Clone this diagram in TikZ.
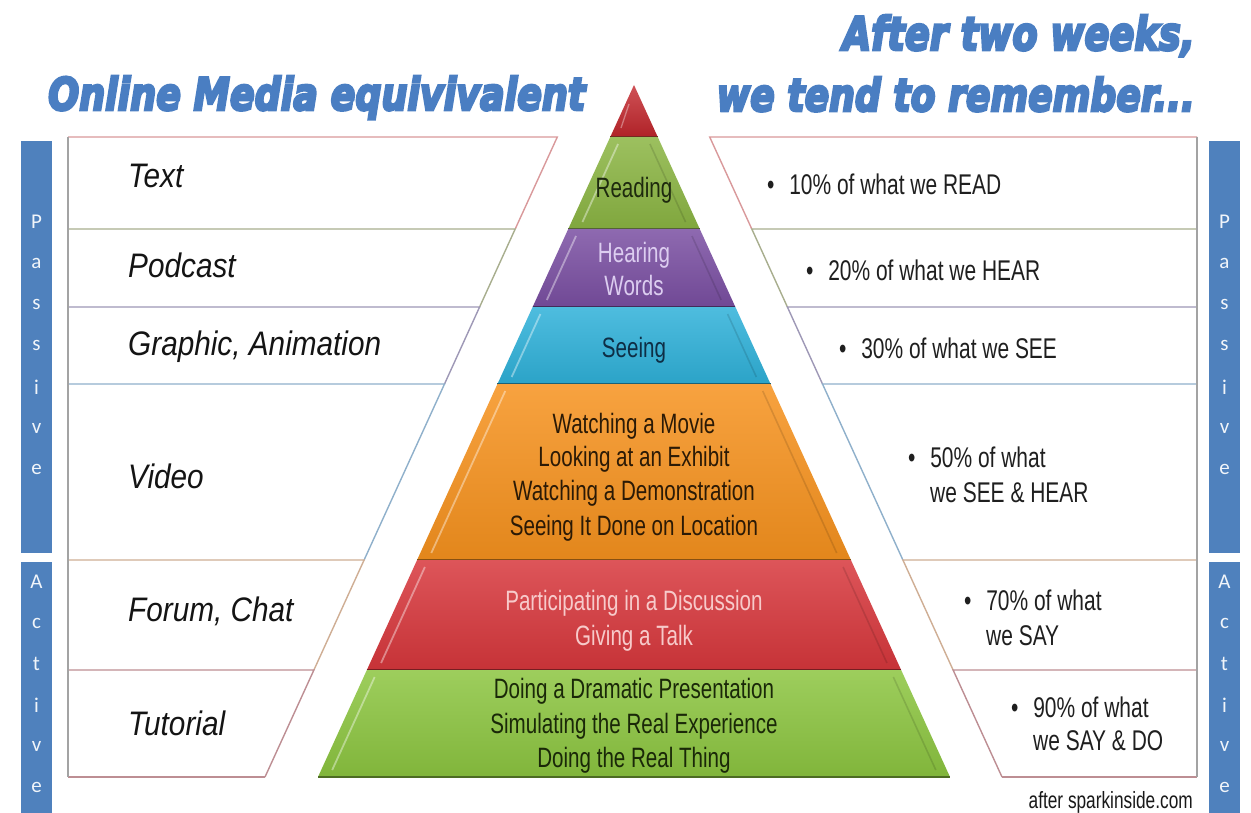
\documentclass[tikz,border=0pt]{standalone}
\usepackage{graphicx}
\usepackage{fontspec}
\setmainfont{Liberation Sans}
\newfontfamily\narrowfont[FakeStretch=0.735]{Liberation Sans}
\newfontfamily\labfont[FakeStretch=0.875]{Liberation Sans}
\newfontfamily\barfont{Carlito}
\newfontfamily\titlefont[BoldItalicFeatures={FakeBold=6}]{DejaVu Sans}

\definecolor{barblue}{HTML}{4F81BD}
\definecolor{titleblue}{HTML}{4A7EC2}
\definecolor{apexred}{HTML}{C3262C}
\definecolor{readgreen}{HTML}{8BB543}
\definecolor{hearpurple}{HTML}{7A4FA2}
\definecolor{seecyan}{HTML}{2FB1D9}
\definecolor{watchorange}{HTML}{F6921E}
\definecolor{partred}{HTML}{D7373C}
\definecolor{dogreen}{HTML}{8CC540}
\definecolor{txreading}{HTML}{1E2A0E}
\definecolor{txhearing}{HTML}{DCCDF0}
\definecolor{txseeing}{HTML}{0E2E45}
\definecolor{txorange}{HTML}{2B1A06}
\definecolor{txred}{HTML}{F7CACA}
\definecolor{txgreen}{HTML}{1A2808}
\definecolor{rowA}{HTML}{D9999B}
\definecolor{rowB}{HTML}{A8AE8E}
\definecolor{rowC}{HTML}{9E98B6}
\definecolor{rowD}{HTML}{8FB0CB}
\definecolor{rowE}{HTML}{CFAE94}
\definecolor{rowF}{HTML}{BD8E93}
\definecolor{edgegray}{HTML}{A3A3A3}

% pyramid band: y1, y2, colour
\newcommand\pyrband[3]{%
  \pgfmathsetmacro\pyA{634-0.456647*(#1-85)}%
  \pgfmathsetmacro\pyB{634-0.456647*(#2-85)}%
  \pgfmathsetmacro\pyC{634+0.456647*(#2-85)}%
  \pgfmathsetmacro\pyD{634+0.456647*(#1-85)}%
  \shade[top color=#3!85!white, bottom color=#3!92!black] (\pyA,#1) -- (\pyB,#2) -- (\pyC,#2) -- (\pyD,#1) -- cycle;
  \pgfmathsetmacro\hy{#1+7}%
  \pgfmathsetmacro\hz{#2-7}%
  \pgfmathsetmacro\hLa{634-0.456647*(\hy-85)+11}%
  \pgfmathsetmacro\hLb{634-0.456647*(\hz-85)+11}%
  \pgfmathsetmacro\hRa{634+0.456647*(\hy-85)-11}%
  \pgfmathsetmacro\hRb{634+0.456647*(\hz-85)-11}%
  \draw[white, opacity=0.4, line width=1.8] (\hLa,\hy) -- (\hLb,\hz);
  \draw[black, opacity=0.12, line width=1.6] (\hRa,\hy) -- (\hRb,\hz);
  \draw[#3!55!black, line width=1.4] (\pyB,#2) -- (\pyC,#2);
}
% left row: y1, xslant1, y2, xslant2, colour
\newcommand\leftrow[5]{%
  \fill[white] (68,#1) -- (#2,#1) -- (#4,#3) -- (68,#3) -- cycle;
  \draw[#5, line width=1.4] (68,#1) -- (#2,#1) -- (#4,#3);
}
% right row: y1, xslant1, y2, xslant2, colour
\newcommand\rightrow[5]{%
  \fill[white] (1197,#1) -- (#2,#1) -- (#4,#3) -- (1197,#3) -- cycle;
  \draw[#5, line width=1.4] (1197,#1) -- (#2,#1) -- (#4,#3);
}

\tikzset{
  barletter/.style={font=\barfont\fontsize{21}{21}\selectfont, text=white!92!barblue, inner sep=0pt, anchor=center},
  pyrtext/.style={font=\narrowfont\fontsize{28}{34}\selectfont, inner sep=0pt, anchor=base},
  lefttext/.style={font=\labfont\itshape\fontsize{34}{40}\selectfont, text=black!92, inner sep=0pt, anchor=base west},
  righttext/.style={font=\narrowfont\fontsize{28.5}{34}\selectfont, text=black!88, inner sep=0pt, anchor=base west},
  titletext/.style={font=\titlefont\bfseries\itshape, text=titleblue, inner sep=0pt},
}

\begin{document}
\begin{tikzpicture}[x=1pt,y=-1pt]
\useasboundingbox (0,0) rectangle (1251,813);
\fill[white] (0,0) rectangle (1251,813);

% titles
\node[titletext, anchor=base west] (titleL) at (48,110) {\resizebox{537pt}{34pt}{Online Media equivivalent}};
\node[titletext, anchor=base east] (titleR1) at (1195,50) {\resizebox{352pt}{35pt}{After two weeks,}};
\node[titletext, anchor=base east] (titleR2) at (1195,111) {\resizebox{478pt}{34pt}{we tend to remember...}};

% side bars
\fill[barblue] (21,141) rectangle (52,553);
\fill[barblue] (21,562) rectangle (52,813);
\fill[barblue] (1209,141) rectangle (1240,553);
\fill[barblue] (1209,562) rectangle (1240,813);
\foreach \ch [count=\i] in {P,a,s,s,i,v,e} {
  \node[barletter] (lp\i) at (36.5,{222+41.2*(\i-1)}) {\ch};
  \node[barletter] (rp\i) at (1224.5,{222+41.2*(\i-1)}) {\ch};
}
\foreach \ch [count=\i] in {A,c,t,i,v,e} {
  \node[barletter] (la\i) at (36.5,{582+41*(\i-1)}) {\ch};
  \node[barletter] (ra\i) at (1224.5,{582+41*(\i-1)}) {\ch};
}

% left boxes
\leftrow{137}{557.3}{229}{515.2}{rowA}
\leftrow{229}{515.2}{307}{479.6}{rowB}
\leftrow{307}{479.6}{384}{444.5}{rowC}
\leftrow{384}{444.5}{560}{364.1}{rowD}
\leftrow{560}{364.1}{670}{313.9}{rowE}
\leftrow{670}{313.9}{777}{265}{rowF}
\draw[rowF, line width=1.8] (68,777) -- (265,777);
\draw[edgegray, line width=1.2] (68,137) -- (68,777);

% right boxes
\rightrow{137}{709.7}{229}{751.8}{rowA}
\rightrow{229}{751.8}{307}{787.4}{rowB}
\rightrow{307}{787.4}{384}{822.5}{rowC}
\rightrow{384}{822.5}{560}{902.9}{rowD}
\rightrow{560}{902.9}{670}{953.1}{rowE}
\rightrow{670}{953.1}{777}{1002}{rowF}
\draw[rowF, line width=1.8] (1002,777) -- (1197,777);
\draw[edgegray, line width=1.2] (1197,137) -- (1197,777);

% pyramid
\shade[top color=apexred!80!white, bottom color=apexred!90!black] (634,85) -- (610.25,137) -- (657.75,137) -- cycle;
\draw[white, opacity=0.35, line width=1.4] (629,104) -- (621,128);
\draw[apexred!55!black, line width=1.4] (610.25,137) -- (657.75,137);
\pyrband{137}{229}{readgreen}
\pyrband{229}{307}{hearpurple}
\pyrband{307}{384}{seecyan}
\pyrband{384}{560}{watchorange}
\pyrband{560}{670}{partred}
\pyrband{670}{777}{dogreen}

% pyramid texts
\node[pyrtext, text=txreading] (reading) at (634,198) {Reading};
\node[pyrtext, text=txhearing] (hear1) at (634,263) {Hearing};
\node[pyrtext, text=txhearing] (hear2) at (634,295) {Words};
\node[pyrtext, text=txseeing] (seeing) at (634,357) {Seeing};
\node[pyrtext, text=txorange] (watch1) at (634,433) {Watching a Movie};
\node[pyrtext, text=txorange] (watch2) at (634,466) {Looking at an Exhibit};
\node[pyrtext, text=txorange] (watch3) at (634,500) {Watching a Demonstration};
\node[pyrtext, text=txorange] (watch4) at (634,535) {Seeing It Done on Location};
\node[pyrtext, text=txred] (part1) at (634,610) {Participating in a Discussion};
\node[pyrtext, text=txred] (part2) at (634,645) {Giving a Talk};
\node[pyrtext, text=txgreen] (do1) at (634,698) {Doing a Dramatic Presentation};
\node[pyrtext, text=txgreen] (do2) at (634,733) {Simulating the Real Experience};
\node[pyrtext, text=txgreen] (do3) at (634,767) {Doing the Real Thing};

% left labels
\node[lefttext] (ltext) at (128,188) {Text};
\node[lefttext] (lpod) at (128,277) {Podcast};
\node[lefttext] (lgraph) at (128,355) {Graphic, Animation};
\node[lefttext] (lvideo) at (128,488) {Video};
\node[lefttext] (lforum) at (128,621) {Forum, Chat};
\node[lefttext] (ltut) at (128,735) {Tutorial};

% right labels
\node[righttext] (r10) at (766.8,195) {\textbullet\hspace{15pt}10\% of what we READ};
\node[righttext] (r20) at (805.8,280) {\textbullet\hspace{15pt}20\% of what we HEAR};
\node[righttext] (r30) at (838.8,358) {\textbullet\hspace{15pt}30\% of what we SEE};
\node[righttext] (r50a) at (907.8,467) {\textbullet\hspace{15pt}50\% of what};
\node[righttext] (r50b) at (930,502) {we SEE \& HEAR};
\node[righttext] (r70a) at (963.8,610) {\textbullet\hspace{15pt}70\% of what};
\node[righttext] (r70b) at (986,645) {we SAY};
\node[righttext] (r90a) at (1010.8,717) {\textbullet\hspace{15pt}90\% of what};
\node[righttext] (r90b) at (1033,750) {we SAY \& DO};

\node[font=\narrowfont\fontsize{23.5}{26}\selectfont, text=black!90, inner sep=0pt, anchor=base east] (credit) at (1193,808) {after sparkinside.com};
\end{tikzpicture}
\end{document}
